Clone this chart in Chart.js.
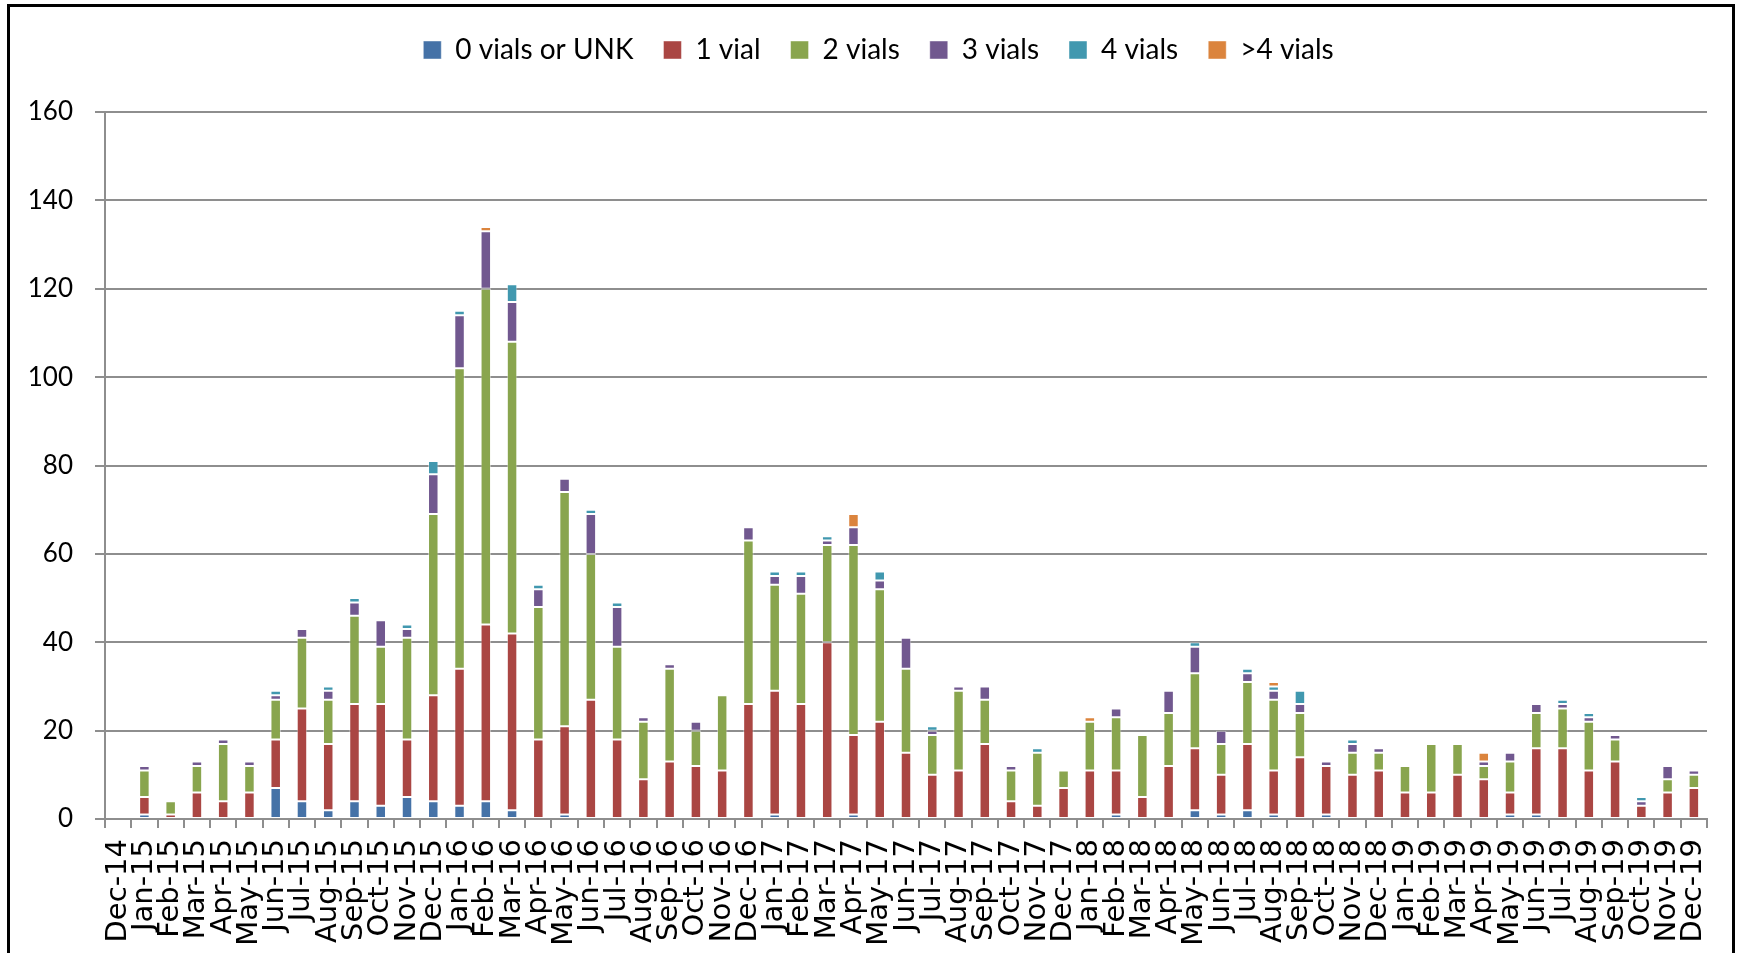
<!DOCTYPE html>
<html>
<head>
<meta charset="utf-8">
<script src="https://cdn.jsdelivr.net/npm/chart.js@4.4.1/dist/chart.umd.min.js"></script>
<style>
  html, body { margin: 0; padding: 0; background: #fff; overflow: hidden; }
  #frame {
    position: absolute; left: 7px; top: 4px; width: 1728px; height: 1000px;
    border: 3px solid #000; box-sizing: border-box;
  }
  #wrap { position: absolute; left: 0; top: 0; width: 1741px; height: 953px; }
</style>
</head>
<body>
<div id="frame"></div>
<div id="wrap"><canvas id="grafica"></canvas></div>
<script>
// Meses (etiquetas del eje X)
const meses = [
  'Dec-14',
  'Jan-15', 'Feb-15', 'Mar-15', 'Apr-15', 'May-15', 'Jun-15', 'Jul-15', 'Aug-15', 'Sep-15', 'Oct-15', 'Nov-15', 'Dec-15',
  'Jan-16', 'Feb-16', 'Mar-16', 'Apr-16', 'May-16', 'Jun-16', 'Jul-16', 'Aug-16', 'Sep-16', 'Oct-16', 'Nov-16', 'Dec-16',
  'Jan-17', 'Feb-17', 'Mar-17', 'Apr-17', 'May-17', 'Jun-17', 'Jul-17', 'Aug-17', 'Sep-17', 'Oct-17', 'Nov-17', 'Dec-17',
  'Jan-18', 'Feb-18', 'Mar-18', 'Apr-18', 'May-18', 'Jun-18', 'Jul-18', 'Aug-18', 'Sep-18', 'Oct-18', 'Nov-18', 'Dec-18',
  'Jan-19', 'Feb-19', 'Mar-19', 'Apr-19', 'May-19', 'Jun-19', 'Jul-19', 'Aug-19', 'Sep-19', 'Oct-19', 'Nov-19', 'Dec-19'
];

// Valores por serie
const vialesUnk = [0,
  1, 0, 0, 0, 0, 7, 4, 2, 4, 3, 5, 4,
  3, 4, 2, 0, 1, 0, 0, 0, 0, 0, 0, 0,
  1, 0, 0, 1, 0, 0, 0, 0, 0, 0, 0, 0,
  0, 1, 0, 0, 2, 1, 2, 1, 0, 1, 0, 0,
  0, 0, 0, 0, 1, 1, 0, 0, 0, 0, 0, 0];
const viales1 = [0,
  4, 1, 6, 4, 6, 11, 21, 15, 22, 23, 13, 24,
  31, 40, 40, 18, 20, 27, 18, 9, 13, 12, 11, 26,
  28, 26, 40, 18, 22, 15, 10, 11, 17, 4, 3, 7,
  11, 10, 5, 12, 14, 9, 15, 10, 14, 11, 10, 11,
  6, 6, 10, 9, 5, 15, 16, 11, 13, 3, 6, 7];
const viales2 = [0,
  6, 3, 6, 13, 6, 9, 16, 10, 20, 13, 23, 41,
  68, 76, 66, 30, 53, 33, 21, 13, 21, 8, 17, 37,
  24, 25, 22, 43, 30, 19, 9, 18, 10, 7, 12, 4,
  11, 12, 14, 12, 17, 7, 14, 16, 10, 0, 5, 4,
  6, 11, 7, 3, 7, 8, 9, 11, 5, 0, 3, 3];
const viales3 = [0,
  1, 0, 1, 1, 1, 1, 2, 2, 3, 6, 2, 9,
  12, 13, 9, 4, 3, 9, 9, 1, 1, 2, 0, 3,
  2, 4, 1, 4, 2, 7, 1, 1, 3, 1, 0, 0,
  0, 2, 0, 5, 6, 3, 2, 2, 2, 1, 2, 1,
  0, 0, 0, 1, 2, 2, 1, 1, 1, 1, 3, 1];
const viales4 = [0,
  0, 0, 0, 0, 0, 1, 0, 1, 1, 0, 1, 3,
  1, 0, 4, 1, 0, 1, 1, 0, 0, 0, 0, 0,
  1, 1, 1, 0, 2, 0, 1, 0, 0, 0, 1, 0,
  0, 0, 0, 0, 1, 0, 1, 1, 3, 0, 1, 0,
  0, 0, 0, 0, 0, 0, 1, 1, 0, 1, 0, 0];
const vialesMas4 = [0,
  0, 0, 0, 0, 0, 0, 0, 0, 0, 0, 0, 0,
  0, 1, 0, 0, 0, 0, 0, 0, 0, 0, 0, 0,
  0, 0, 0, 3, 0, 0, 0, 0, 0, 0, 0, 0,
  1, 0, 0, 0, 0, 0, 0, 1, 0, 0, 0, 0,
  0, 0, 0, 2, 0, 0, 0, 0, 0, 0, 0, 0];

const nombresSeries = ['0 vials or UNK', '1 vial', '2 vials', '3 vials', '4 vials', '>4 vials'];
const coloresSeries = ['#4572A7', '#AA4643', '#89A54E', '#71588F', '#4198AF', '#DB843D'];
const valoresSeries = [vialesUnk, viales1, viales2, viales3, viales4, vialesMas4];

const colorRejilla = '#8e8e8e';

// Se deja espacio extra bajo la leyenda y se corre un poco a la derecha
const ajusteLeyenda = {
  id: 'ajusteLeyenda',
  beforeInit(chart) {
    const fitOriginal = chart.legend.fit;
    chart.legend.fit = function () {
      fitOriginal.bind(chart.legend)();
      this.height += 38;
    };
  },
  afterLayout(chart) {
    chart.legend.left += 20;
    chart.legend.right += 20;
  }
};

// Se arma cada serie; los ceros no se dibujan
const datasets = valoresSeries.map((valores, i) => ({
  label: nombresSeries[i],
  data: valores.map(v => (v === 0 ? null : v)),
  backgroundColor: coloresSeries[i],
  borderColor: 'rgba(255,255,255,0.45)',
  borderWidth: 1,
  borderSkipped: false,
  barPercentage: 0.4,
  categoryPercentage: 1.0
}));

const ctx = document.getElementById('grafica').getContext('2d');
new Chart(ctx, {
  type: 'bar',
  data: { labels: meses, datasets },
  plugins: [ajusteLeyenda],
  options: {
    responsive: true,
    maintainAspectRatio: false,
    animation: false,
    layout: { padding: { top: 6, right: 34, left: 10, bottom: 0 } },
    plugins: {
      legend: {
        position: 'top',
        align: 'center',
        labels: {
          color: '#000',
          font: { family: 'Lato', size: 28 },
          boxWidth: 18,
          boxHeight: 18,
          padding: 30
        }
      },
      tooltip: { enabled: false }
    },
    scales: {
      x: {
        stacked: true,
        grid: {
          display: true,
          drawOnChartArea: false,
          drawTicks: true,
          tickLength: 9,
          color: colorRejilla,
          lineWidth: 2,
          offset: true
        },
        border: { display: true, color: colorRejilla, width: 2 },
        ticks: {
          autoSkip: false,
          maxRotation: 90,
          minRotation: 90,
          padding: 11,
          color: '#000',
          font: { family: 'DejaVu Sans', size: 29 }
        },
        afterFit: (scale) => { scale.height = 134; }
      },
      y: {
        stacked: true,
        min: 0,
        max: 160,
        ticks: {
          stepSize: 20,
          padding: 22,
          color: '#000',
          font: { family: 'Lato', size: 26 }
        },
        grid: {
          color: colorRejilla,
          lineWidth: 2,
          tickLength: 10
        },
        border: { display: true, color: colorRejilla, width: 2 },
        afterFit: (scale) => { scale.width = 95; }
      }
    }
  }
});
</script>
</body>
</html>
